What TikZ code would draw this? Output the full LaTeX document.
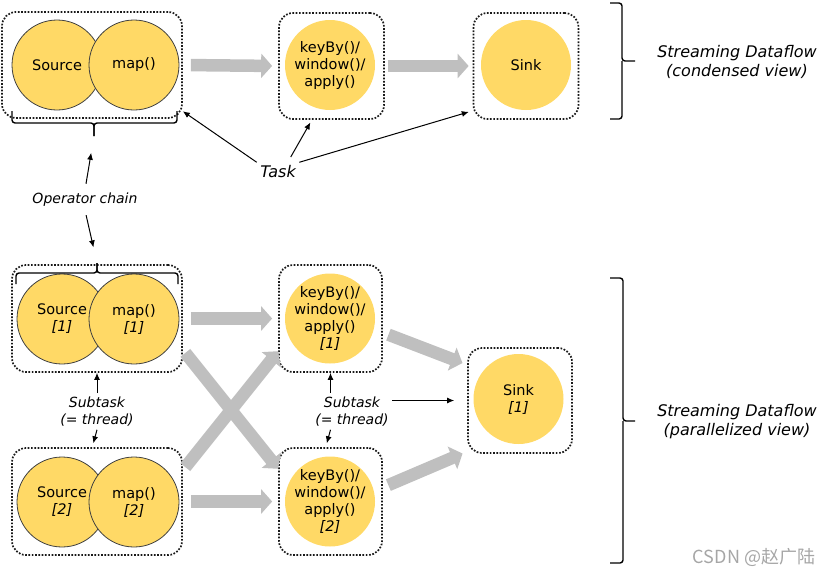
\documentclass[tikz,border=0pt]{standalone}
\usepackage{fontspec}
\setmainfont{DejaVu Sans}[ItalicFont={DejaVu Sans Oblique}]
\newfontfamily\cjkfont{Noto Sans CJK SC}
\usetikzlibrary{arrows.meta}
\definecolor{opyellow}{HTML}{FFD966}
\definecolor{flowgray}{HTML}{BFBFBF}

\begin{document}
\begin{tikzpicture}[x=1pt, y=-1pt,
    taskbox/.style={draw=black!90, line width=1.7pt, dash pattern=on 1.7pt off 1.6pt,
        rounded corners=14pt, minimum width=105pt, minimum height=106pt},
    opnode/.style={circle, fill=opyellow, minimum size=90pt, inner sep=-4pt,
        align=center, font=\fontsize{14.5}{17}\selectfont},
    chained/.style={opnode, draw=black!75, line width=0.8pt},
    flow/.style={flowgray, line width=12.5pt, -{Triangle[length=11pt,width=24pt]}},
    note/.style={align=center, font=\fontsize{14}{17}\selectfont\itshape},
    bignote/.style={align=center, font=\fontsize{16}{19}\selectfont\itshape},
    pointer/.style={-{Latex[length=7pt,width=6pt]}, line width=1pt},
    brace/.style={line width=1.4pt, rounded corners=3pt}]
    \useasboundingbox (0,0) rectangle (834,576);

    % Condensed view
    \node[taskbox, minimum width=180pt] (chain) at (92,65) {};
    \node[taskbox] (keybox) at (331.5,66) {};
    \node[taskbox] (sinkbox) at (526,66) {};
    \node[chained] (src) at (57,65) {Source};
    \node[chained] (map) at (134,65) {map()};
    \node[opnode] (key) at (330,65) {keyBy()/\\window()/\\apply()};
    \node[opnode] (sink) at (526,65) {Sink};

    \draw[flow, shorten <=8pt, shorten >=6pt] (chain.east) -- (keybox.west);
    \draw[flow, shorten <=3pt, shorten >=4pt] (keybox.east) -- (sinkbox.west);

    % Brace under the chain
    \coordinate (ctop) at (94,136);
    \draw[brace] (12,111) |- (94,123) -- (ctop);
    \draw[brace] (177,111) |- (94,123) -- (ctop);

    % Task labels
    \node[bignote] (task) at (278,172) {Task};
    \draw[pointer] (task.north west) -- (chain.-27);
    \draw[pointer, shorten <=6pt, shorten >=3pt] (task.45) -- (keybox.-110);
    \draw[pointer, shorten >=4pt] (task.north east) -- (sinkbox.-140);

    % Operator chain label
    \coordinate (cbot) at (97,263);
    \node[note] (opchain) at (85,200) {Operator chain};
    \draw[pointer, shorten <=6pt, shorten >=17pt] (opchain.north) -- (ctop);
    \draw[pointer, shorten <=5pt, shorten >=16pt] (opchain.south) -- (cbot);

    % Parallelized view
    \node[taskbox, minimum width=170pt, minimum height=107pt] (chain1) at (97,318.5) {};
    \node[taskbox, minimum width=170pt, minimum height=107pt] (chain2) at (97,501.5) {};
    \node[taskbox, minimum width=103pt, minimum height=107pt] (keybox1) at (330.5,318.5) {};
    \node[taskbox, minimum width=103pt, minimum height=107pt] (keybox2) at (330.5,501.5) {};
    \node[taskbox, minimum width=104pt, minimum height=105pt] (sinkbox1) at (520,400.5) {};

    \node[chained] (src1) at (62,319) {Source\\\textit{[1]}};
    \node[chained] (map1) at (134,319) {map()\\\textit{[1]}};
    \node[chained] (src2) at (62,502) {Source\\\textit{[2]}};
    \node[chained] (map2) at (134,502) {map()\\\textit{[2]}};
    \node[opnode] (key1) at (330,318.5) {keyBy()/\\window()/\\apply()\\\textit{[1]}};
    \node[opnode] (key2) at (330,501.5) {keyBy()/\\window()/\\apply()\\\textit{[2]}};
    \node[opnode] (sink1) at (518.5,399) {Sink\\\textit{[1]}};

    \draw[flow, shorten <=8pt, shorten >=6pt] (chain1.east) -- (keybox1.west);
    \draw[flow, shorten <=8pt, shorten >=6pt] (chain2.east) -- (keybox2.west);
    \draw[flow, shorten <=4pt] (chain1.-20) -- (keybox2.148);
    \draw[flow, shorten <=4pt] (chain2.20) -- (keybox1.-148);
    \draw[flow, shorten <=6pt, shorten >=5pt] (keybox1.-15) -- (sinkbox1.146);
    \draw[flow, shorten <=6pt, shorten >=5pt] (keybox2.15) -- (sinkbox1.-136);

    % Brace over the chain
    \draw[brace] (16,284) |- (97,273) -- (cbot);
    \draw[brace] (178,284) |- (97,273) -- (cbot);

    % Subtask labels
    \node[note] (st1) at (97,411.5) {Subtask\\(= thread)};
    \draw[pointer] (st1.north) -- (chain1.south);
    \draw[pointer, shorten >=4pt] (st1.south) -- (chain2.95);
    \node[note] (st2) at (352,411.5) {Subtask\\(= thread)};
    \draw[pointer] (keybox1.south |- st2.north) -- (keybox1.south);
    \draw[pointer, shorten >=4pt] (keybox1.south |- st2.south) -- (keybox2.95);
    \draw[pointer, shorten >=13pt] (st2.east |- sinkbox1.west) -- (sinkbox1.west);

    % Right braces
    \draw[brace] (610,3) -| (622,61) -- (635,61);
    \draw[brace] (610,119) -| (622,61);
    \node[bignote] (condensed) at (737,62) {Streaming Dataflow\\(condensed view)};
    \draw[brace] (610,278) -| (623,421) -- (635,421);
    \draw[brace] (610,563) -| (623,421);
    \node[bignote] (parallel) at (737,421.5) {Streaming Dataflow\\(parallelized view)};

    \node[text=black!35, font=\cjkfont\fontsize{18}{20}\selectfont] (mark) at (754,557) {CSDN @赵广陆};
\end{tikzpicture}
\end{document}
